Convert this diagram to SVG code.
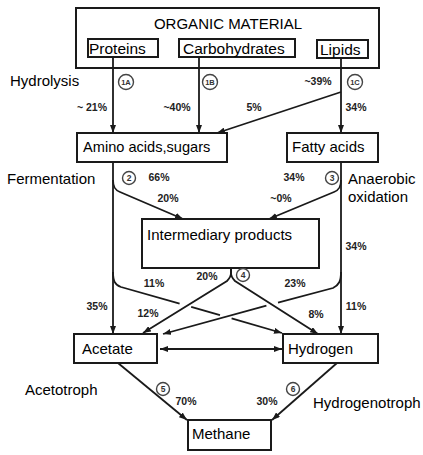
<svg xmlns="http://www.w3.org/2000/svg" width="423" height="455" viewBox="0 0 423 455">
<defs>
<style>
.box{fill:#fff;stroke:#1a1a1a;stroke-width:2}
.lbl{font-family:"Liberation Sans",Arial,sans-serif;font-size:15px;fill:#000}
.pct{font-family:"Liberation Sans",Arial,sans-serif;font-size:10.5px;font-weight:bold;fill:#222;text-anchor:middle}
.ln{fill:none;stroke:#1a1a1a;stroke-width:1.8}
.arr{marker-end:url(#ah)}
.cir{fill:#fff;stroke:#444;stroke-width:1.4}
.cnum{font-family:"Liberation Sans",Arial,sans-serif;font-size:8.5px;font-weight:bold;fill:#333;text-anchor:middle}
</style>
<marker id="ah" viewBox="0 0 8 6" refX="8" refY="3" markerWidth="8" markerHeight="6" markerUnits="userSpaceOnUse" orient="auto-start-reverse">
<path d="M0,0 L8,3 L0,6 z" fill="#1a1a1a"/>
</marker>
</defs>
<rect width="423" height="455" fill="#fff"/>

<g id="organic-material">
<rect class="box" x="76" y="8" width="303" height="60"/>
<text class="lbl" x="228" y="29" text-anchor="middle">ORGANIC MATERIAL</text>
</g>
<g id="proteins">
<rect class="box" x="88" y="39" width="70" height="18"/>
<text class="lbl" x="89" y="54" style="font-size:15.5px">Proteins</text>
</g>
<g id="carbohydrates">
<rect class="box" x="179" y="39" width="116" height="18"/>
<text class="lbl" x="183" y="54" style="font-size:15.5px">Carbohydrates</text>
</g>
<g id="lipids">
<rect class="box" x="317" y="40" width="51" height="18"/>
<text class="lbl" x="320" y="55" style="font-size:15.5px">Lipids</text>
</g>

<g id="connectors">
<path class="ln arr" d="M113,57 L113,133"/>
<path class="ln arr" d="M199,57 L199,133"/>
<path class="ln arr" d="M341,58 L341,133"/>
<path class="ln arr" d="M341,92 L217,133"/>
<path class="ln arr" d="M113,162 L113,334"/>
<path class="ln arr" d="M341,162 L341,334"/>
<path class="ln arr" d="M113,180 C113,187 115,190 120,192 L183,219"/>
<path class="ln arr" d="M341,180 C341,187 339,190 334,192 L269,219"/>
<path class="ln arr" d="M231,268 L231,273 C231,277 229,279 227,281 L143,333"/>
<path class="ln arr" d="M231,268 L231,273 C231,277 233,279 235,281 L318,334"/>
<path class="ln" d="M113,272 C113,281 115,285 121,287 L179.6,303.6"/>
<path class="ln" d="M191.2,306.8 L220,315.2"/>
<path class="ln arr" d="M231.6,318.4 L282,333"/>
<path class="ln" d="M341,272 C341,281 339,285 333,288 L278,302.6"/>
<path class="ln arr" d="M266.4,305.6 L163,334"/>
<path class="ln arr" d="M160,349 L282,349" style="marker-start:url(#ah)"/>
<path class="ln arr" d="M118,363 L187,420"/>
<path class="ln arr" d="M337,363 L272,420"/>
</g>

<g id="amino-acids-sugars">
<rect class="box" x="77" y="133" width="150" height="29"/>
<text class="lbl" x="83" y="152" style="font-size:14.6px">Amino acids,sugars</text>
</g>
<g id="fatty-acids">
<rect class="box" x="287" y="133" width="91" height="29"/>
<text class="lbl" x="292" y="152">Fatty acids</text>
</g>
<g id="intermediary-products">
<rect class="box" x="142" y="219" width="177" height="49"/>
<text class="lbl" x="147" y="240">Intermediary products</text>
</g>
<g id="acetate">
<rect class="box" x="74" y="334" width="83" height="29"/>
<text class="lbl" x="82" y="354">Acetate</text>
</g>
<g id="hydrogen">
<rect class="box" x="283" y="334" width="95" height="29"/>
<text class="lbl" x="288" y="354">Hydrogen</text>
</g>
<g id="methane">
<rect class="box" x="188" y="420" width="83" height="30"/>
<text class="lbl" x="192" y="439">Methane</text>
</g>

<g id="process-labels">
<text class="lbl" x="10" y="86">Hydrolysis</text>
<text class="lbl" x="7" y="184">Fermentation</text>
<text class="lbl" x="348" y="184">Anaerobic</text>
<text class="lbl" x="348" y="202">oxidation</text>
<text class="lbl" x="25" y="395">Acetotroph</text>
<text class="lbl" x="313" y="408">Hydrogenotroph</text>
</g>

<g id="step-markers">
<circle class="cir" cx="126" cy="82" r="7.5"/><text class="cnum" x="126" y="85" style="font-size:7.5px">1A</text>
<circle class="cir" cx="210" cy="82" r="7.5"/><text class="cnum" x="210" y="85" style="font-size:7.5px">1B</text>
<circle class="cir" cx="355" cy="82" r="7.5"/><text class="cnum" x="355" y="85" style="font-size:7.5px">1C</text>
<circle class="cir" cx="129" cy="178" r="6.5"/><text class="cnum" x="129" y="181">2</text>
<circle class="cir" cx="332" cy="178" r="6.5"/><text class="cnum" x="332" y="181">3</text>
<circle class="cir" cx="243" cy="275" r="6.5"/><text class="cnum" x="243" y="278">4</text>
<circle class="cir" cx="163" cy="389" r="6.5"/><text class="cnum" x="163" y="392">5</text>
<circle class="cir" cx="293" cy="389" r="6.5"/><text class="cnum" x="293" y="392">6</text>
</g>

<g id="percentages">
<text class="pct" x="92" y="111">~ 21%</text>
<text class="pct" x="177" y="111">~40%</text>
<text class="pct" x="254" y="111">5%</text>
<text class="pct" x="318" y="85">~39%</text>
<text class="pct" x="356" y="111">34%</text>
<text class="pct" x="159" y="181">66%</text>
<text class="pct" x="294" y="181">34%</text>
<text class="pct" x="168" y="202">20%</text>
<text class="pct" x="281" y="202">~0%</text>
<text class="pct" x="356" y="250">34%</text>
<text class="pct" x="207" y="280">20%</text>
<text class="pct" x="154" y="287">11%</text>
<text class="pct" x="295" y="287">23%</text>
<text class="pct" x="97" y="310">35%</text>
<text class="pct" x="148" y="317">12%</text>
<text class="pct" x="316" y="318">8%</text>
<text class="pct" x="356" y="310">11%</text>
<text class="pct" x="186" y="405">70%</text>
<text class="pct" x="267" y="405">30%</text>
</g>
</svg>
